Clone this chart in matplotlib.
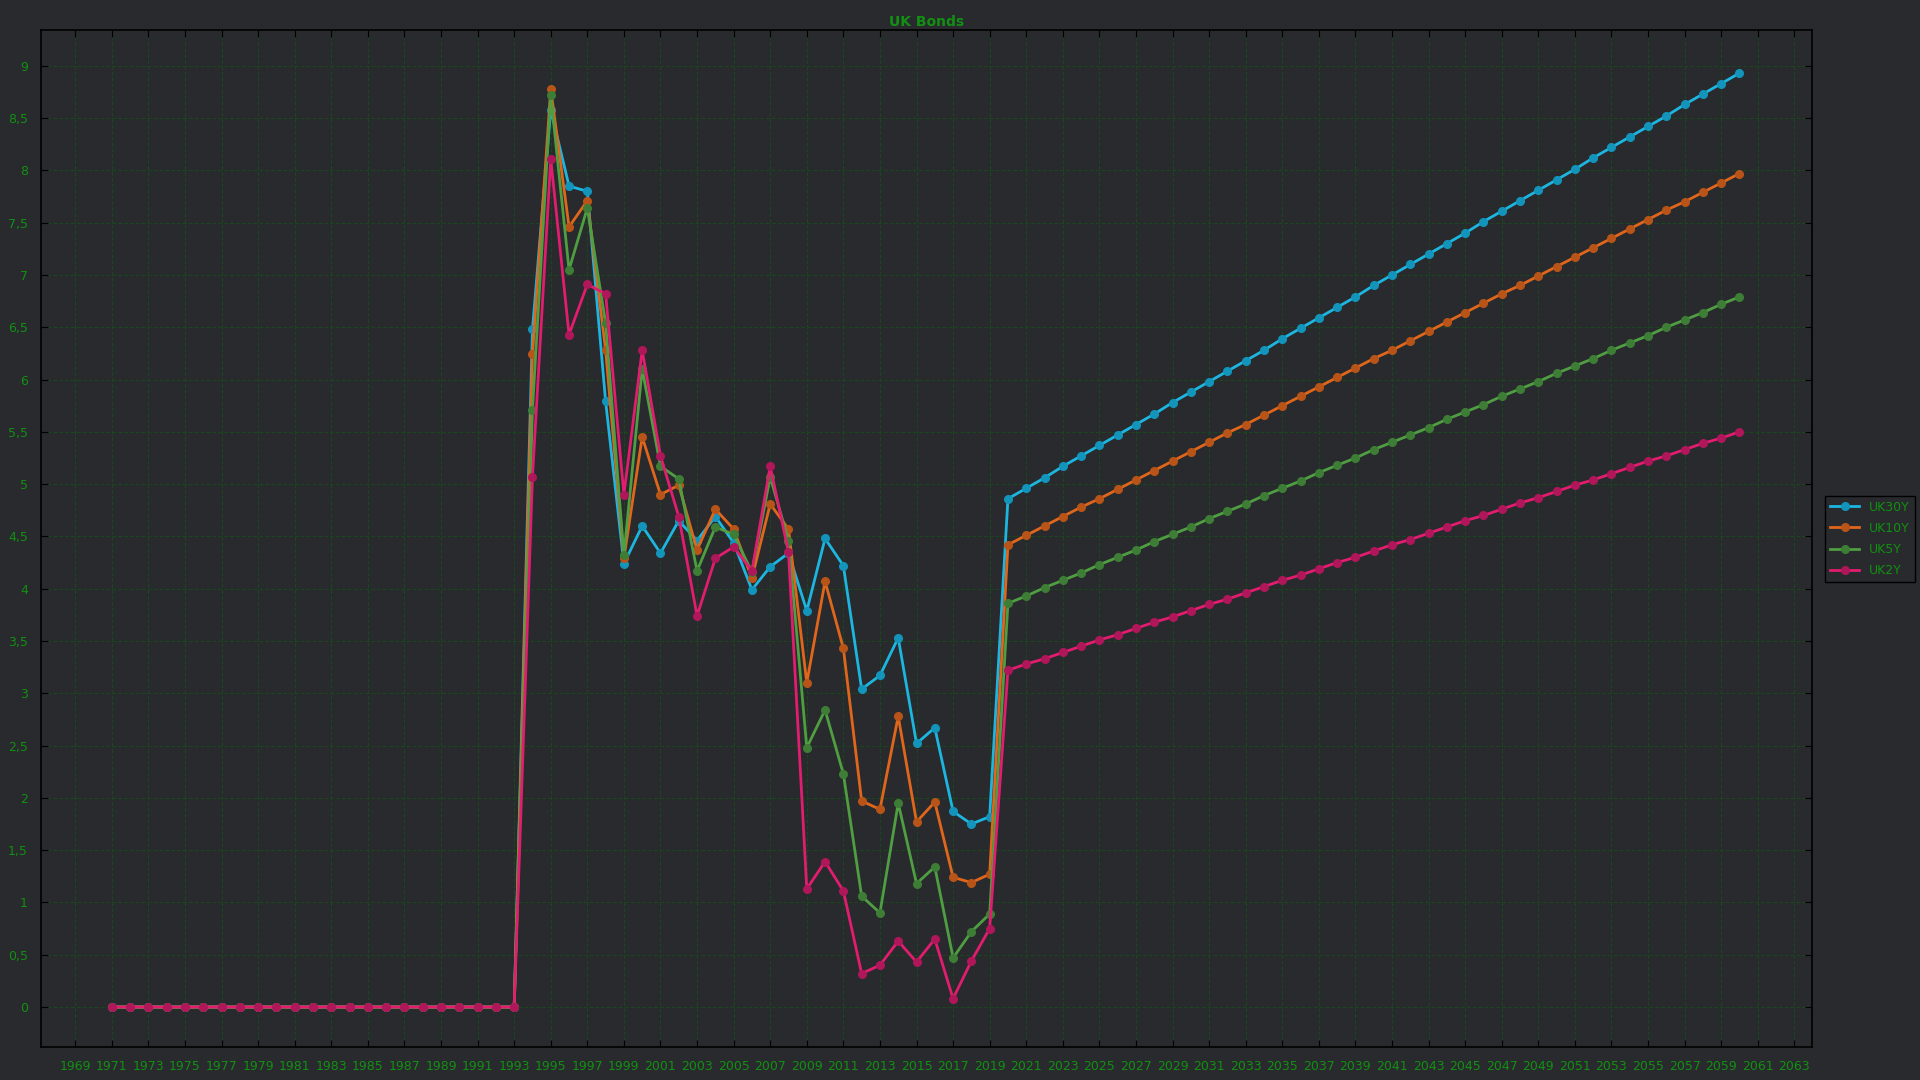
import matplotlib
matplotlib.use('Agg')
import matplotlib.pyplot as plt
from matplotlib.ticker import FuncFormatter, MultipleLocator

# Years on the x axis
years = list(range(1971, 2061))

# Yields per series, 1971..2060
uk30y = [0.0, 0.0, 0.0, 0.0, 0.0, 0.0, 0.0, 0.0, 0.0, 0.0, 0.0, 0.0, 0.0, 0.0, 0.0, 0.0,
         0.0, 0.0, 0.0, 0.0, 0.0, 0.0, 0.0,
         6.48, 8.58, 7.85, 7.80, 5.79, 4.24, 4.60, 4.34, 4.65, 4.46, 4.69, 4.44, 3.99, 4.21,
         4.34, 3.79, 4.48, 4.22, 3.04, 3.17, 3.53, 2.52, 2.67, 1.87, 1.75, 1.82,
         4.86, 4.96, 5.06, 5.17, 5.27, 5.37, 5.47, 5.57, 5.67, 5.78, 5.88, 5.98, 6.08, 6.18,
         6.28, 6.39, 6.49, 6.59, 6.69, 6.79, 6.90, 7.00, 7.10, 7.20, 7.30, 7.40, 7.51, 7.61,
         7.71, 7.81, 7.91, 8.01, 8.12, 8.22, 8.32, 8.42, 8.52, 8.63, 8.73, 8.83, 8.93]
uk10y = [0.0, 0.0, 0.0, 0.0, 0.0, 0.0, 0.0, 0.0, 0.0, 0.0, 0.0, 0.0, 0.0, 0.0, 0.0, 0.0,
         0.0, 0.0, 0.0, 0.0, 0.0, 0.0, 0.0,
         6.24, 8.78, 7.46, 7.71, 6.28, 4.29, 5.45, 4.90, 4.99, 4.37, 4.76, 4.57, 4.10, 4.81,
         4.57, 3.10, 4.07, 3.43, 1.97, 1.89, 2.78, 1.77, 1.96, 1.24, 1.19, 1.27,
         4.42, 4.51, 4.60, 4.69, 4.78, 4.86, 4.95, 5.04, 5.13, 5.22, 5.31, 5.40, 5.49, 5.57,
         5.66, 5.75, 5.84, 5.93, 6.02, 6.11, 6.20, 6.28, 6.37, 6.46, 6.55, 6.64, 6.73, 6.82,
         6.90, 6.99, 7.08, 7.17, 7.26, 7.35, 7.44, 7.53, 7.62, 7.70, 7.79, 7.88, 7.97]
uk5y = [0.0, 0.0, 0.0, 0.0, 0.0, 0.0, 0.0, 0.0, 0.0, 0.0, 0.0, 0.0, 0.0, 0.0, 0.0, 0.0,
        0.0, 0.0, 0.0, 0.0, 0.0, 0.0, 0.0,
        5.71, 8.72, 7.05, 7.64, 6.54, 4.32, 6.10, 5.17, 5.05, 4.17, 4.59, 4.52, 4.16, 5.07,
        4.46, 2.48, 2.84, 2.23, 1.06, 0.90, 1.95, 1.18, 1.34, 0.47, 0.72, 0.89,
        3.86, 3.93, 4.01, 4.08, 4.15, 4.23, 4.30, 4.37, 4.45, 4.52, 4.59, 4.67, 4.74, 4.81,
        4.89, 4.96, 5.03, 5.11, 5.18, 5.25, 5.33, 5.40, 5.47, 5.54, 5.62, 5.69, 5.76, 5.84,
        5.91, 5.98, 6.06, 6.13, 6.20, 6.28, 6.35, 6.42, 6.50, 6.57, 6.64, 6.72, 6.79]
uk2y = [0.0, 0.0, 0.0, 0.0, 0.0, 0.0, 0.0, 0.0, 0.0, 0.0, 0.0, 0.0, 0.0, 0.0, 0.0, 0.0,
        0.0, 0.0, 0.0, 0.0, 0.0, 0.0, 0.0,
        5.07, 8.11, 6.43, 6.91, 6.82, 4.90, 6.28, 5.27, 4.69, 3.74, 4.29, 4.40, 4.17, 5.17,
        4.35, 1.13, 1.39, 1.11, 0.32, 0.40, 0.63, 0.43, 0.65, 0.08, 0.44, 0.75,
        3.22, 3.28, 3.33, 3.39, 3.45, 3.51, 3.56, 3.62, 3.68, 3.73, 3.79, 3.85, 3.90, 3.96,
        4.02, 4.08, 4.13, 4.19, 4.25, 4.30, 4.36, 4.42, 4.47, 4.53, 4.59, 4.65, 4.70, 4.76,
        4.82, 4.87, 4.93, 4.99, 5.04, 5.10, 5.16, 5.22, 5.27, 5.33, 5.39, 5.44, 5.50]

series = [
    ('UK30Y', uk30y, '#1cb6e0', '#1394bb'),
    ('UK10Y', uk10y, '#e0661c', '#b85418'),
    ('UK5Y', uk5y, '#4f9e42', '#3d7d35'),
    ('UK2Y', uk2y, '#e21c6e', '#b0165a'),
]

bg = '#282a2d'
txt = '#129012'
grid_col = '#1c4420'

fig = plt.figure(figsize=(19.2, 10.8), dpi=100, facecolor=bg)
ax = fig.add_axes([0.0211, 0.0303, 0.9225, 0.9417], facecolor=bg)

for name, vals, col, mcol in series:
    ax.plot(years, vals, color=col, linewidth=2, marker='o', markersize=5.5,
            markerfacecolor=mcol, markeredgecolor=mcol, label=name)

ax.set_xlim(1967.1, 2063.95)
ax.set_ylim(-0.385, 9.34)

ax.set_xticks(list(range(1969, 2064, 2)))
ax.yaxis.set_major_locator(MultipleLocator(0.5))
ax.yaxis.set_major_formatter(FuncFormatter(lambda v, p: f'{v:g}'.replace('.', ',')))

ax.tick_params(axis='both', which='major', direction='in', length=5, color='black',
               labelcolor=txt, labelsize=9, top=True, right=True, pad=9)

ax.grid(True, color=grid_col, linestyle='--', linewidth=0.8)
for s in ax.spines.values():
    s.set_color('black')
    s.set_linewidth(1.2)

ax.set_title('UK Bonds', color=txt, fontsize=10, fontweight='bold', pad=3)

# legend sits outside the axes on the right
leg = ax.legend(loc='center left', bbox_to_anchor=(0.9475, 0.501), bbox_transform=fig.transFigure,
                fontsize=9, frameon=True, fancybox=False, handlelength=2.3, labelspacing=0.65)
leg.get_frame().set_facecolor(bg)
leg.get_frame().set_edgecolor('black')
leg.get_frame().set_alpha(1)
for t in leg.get_texts():
    t.set_color(txt)

fig.savefig('out.png', dpi=100, facecolor=bg)
